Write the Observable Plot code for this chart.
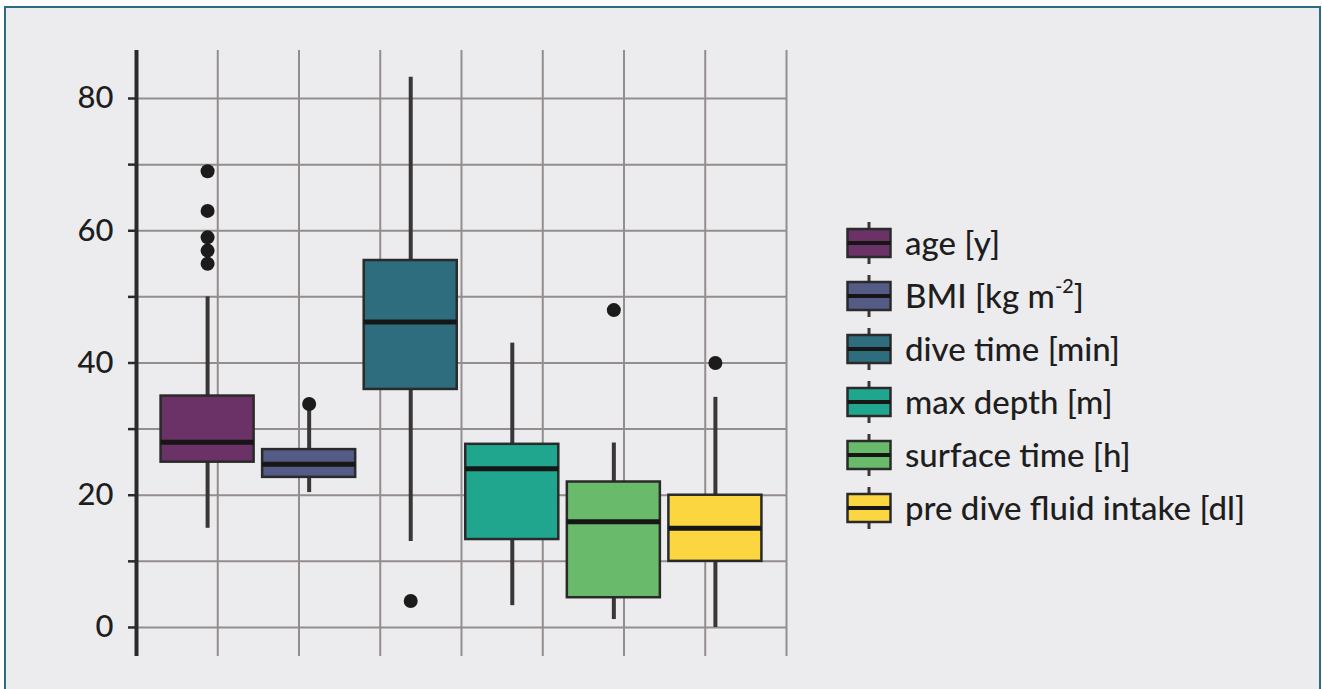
<!DOCTYPE html>
<html>
<head>
<meta charset="utf-8">
<script src="https://cdn.jsdelivr.net/npm/d3@7"></script>
<script src="https://cdn.jsdelivr.net/npm/@observablehq/plot@0.6"></script>
<style>
  html, body { margin: 0; padding: 0; background: #ffffff; width: 1322px; height: 689px; overflow: hidden; }
  #frame { position: absolute; left: 4px; top: 6px; width: 1317px; height: 720px; box-sizing: border-box;
           border: 2px solid #2f6b80; border-bottom: none; background: #ececee; }
  #chart { position: absolute; left: 0; top: 0; }
  #legend { position: absolute; left: 846px; top: 216px; font-family: Lato, "Open Sans", sans-serif;
            font-size: 33px; font-weight: 500; color: #1e1e1e; }
  .row { display: flex; align-items: center; height: 53px; }
  .row svg { flex: none; margin-right: 13px; }
  .row span { white-space: nowrap; line-height: 1; }
  sup { font-size: 0.6em; vertical-align: 0.75em; line-height: 0; }
</style>
</head>
<body>
<div id="frame"></div>
<div id="chart"></div>
<div id="legend"></div>
<script>
// Summary statistics of the dive variables (Tukey box plots)
const variables = ["age [y]", "BMI [kg m<sup>-2</sup>]", "dive time [min]", "max depth [m]", "surface time [h]", "pre dive fluid intake [dl]"];
const colors = ["#6a3266", "#535b86", "#2e6d7e", "#20a68f", "#69ba6b", "#fcd640"];
const whiskerLow  = [15, 20.4, 13, 3.3, 1.2, 0];
const q1          = [25, 22.7, 36, 13.3, 4.5, 10];
const median      = [28, 24.7, 46.2, 24, 16, 15];
const q3          = [35, 26.9, 55.5, 27.7, 22, 20];
const whiskerHigh = [50, 33, 83.2, 43, 27.9, 34.8];
const outliers    = [[55, 57, 59, 63, 69], [33.8], [4], [], [48], [40]];
const yTicks = [0, 10, 20, 30, 40, 50, 60, 70, 80];

// boxes sit at integer positions; the vertical grid runs on its own 0.8-unit spacing
const idx = variables.map((_, i) => i);
const xDomain = [-0.7, 5.7];
const gridX = d3.range(1, 9).map(k => xDomain[0] + 0.8 * k);
const half = 0.458;
const outlierRows = outliers.flatMap((vals, i) => vals.map(v => ({i, v})));

const gridColor = "#948d8d";
const ink = "#2a2a2a";

const chart = Plot.plot({
  width: 810,
  height: 670,
  marginLeft: 136,
  marginRight: 24,
  marginTop: 50,
  marginBottom: 14,
  x: {domain: xDomain, axis: null},
  y: {domain: [-4.39, 87.26], axis: null},
  color: {type: "identity"},
  style: {background: "transparent", fontFamily: "Lato, 'Open Sans', sans-serif", fontWeight: 500, color: "#1e1e1e"},
  marks: [
    Plot.ruleX(gridX, {stroke: gridColor, strokeWidth: 2}),
    Plot.ruleY(yTicks, {stroke: gridColor, strokeWidth: 2}),
    Plot.ruleX(idx, {x: i => i, y1: i => whiskerLow[i], y2: i => q1[i], stroke: "#3a3636", strokeWidth: 4}),
    Plot.ruleX(idx, {x: i => i, y1: i => q3[i], y2: i => whiskerHigh[i], stroke: "#3a3636", strokeWidth: 4}),
    Plot.rect(idx, {x1: i => i - half, x2: i => i + half, y1: i => q1[i], y2: i => q3[i],
                    fill: i => colors[i], stroke: ink, strokeWidth: 2.5}),
    Plot.ruleY(idx, {x1: i => i - half, x2: i => i + half, y: i => median[i], stroke: "#161616", strokeWidth: 5}),
    Plot.dot(outlierRows, {x: d => d.i, y: d => d.v, r: 7, fill: "#1b1b1b", stroke: null}),
    Plot.axisY({ticks: yTicks, tickFormat: d => d % 20 === 0 ? String(d) : "", tickSize: 8, tickPadding: 15,
                fontSize: 31, stroke: ink, strokeWidth: 2.5}),
    Plot.ruleX([xDomain[0]], {stroke: ink, strokeWidth: 4})
  ]
});
document.getElementById("chart").appendChild(chart);

// legend: one small box-plot glyph per variable
const legend = d3.select("#legend");
variables.forEach((label, i) => {
  const row = legend.append("div").attr("class", "row");
  const svg = row.append("svg").attr("width", 46).attr("height", 52);
  svg.append("line").attr("x1", 23).attr("x2", 23).attr("y1", 5).attr("y2", 47)
     .attr("stroke", "#3a3636").attr("stroke-width", 3);
  svg.append("rect").attr("x", 1.5).attr("y", 12).attr("width", 43).attr("height", 28)
     .attr("fill", colors[i]).attr("stroke", ink).attr("stroke-width", 2.5);
  svg.append("line").attr("x1", 1.5).attr("x2", 44.5).attr("y1", 26).attr("y2", 26)
     .attr("stroke", "#161616").attr("stroke-width", 4);
  row.append("span").html(label);
});
</script>
</body>
</html>
